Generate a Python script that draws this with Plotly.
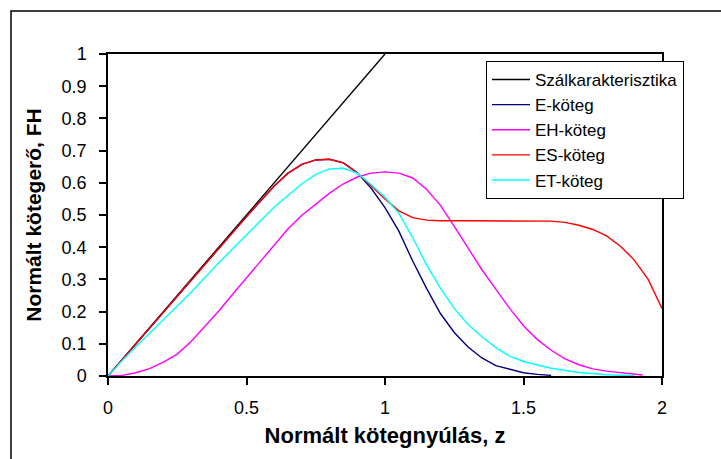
import plotly.graph_objects as go

# ---- data ----
z_fiber = [0, 1.0]
F_fiber = [0, 1.0]

z_E = [0, 0.1, 0.2, 0.3, 0.4, 0.5, 0.6, 0.65, 0.7, 0.75, 0.8, 0.85, 0.9, 0.95,
       1.0, 1.05, 1.1, 1.15, 1.2, 1.25, 1.3, 1.35, 1.4, 1.45, 1.5, 1.55, 1.6]
F_E = [0, 0.099, 0.198, 0.297, 0.396, 0.495, 0.59, 0.63, 0.657, 0.671, 0.673, 0.662, 0.631, 0.583,
       0.523, 0.45, 0.357, 0.272, 0.194, 0.135, 0.09, 0.056, 0.032, 0.02, 0.01, 0.005, 0.002]

z_EH = [0, 0.05, 0.1, 0.15, 0.2, 0.25, 0.3, 0.35, 0.4, 0.45, 0.5, 0.55, 0.6, 0.65, 0.7, 0.75,
        0.8, 0.85, 0.9, 0.95, 1.0, 1.05, 1.1, 1.15, 1.2, 1.25, 1.3, 1.35, 1.4, 1.45, 1.5,
        1.55, 1.6, 1.65, 1.7, 1.75, 1.8, 1.85, 1.9, 1.93]
F_EH = [0, 0.002, 0.01, 0.023, 0.043, 0.068, 0.107, 0.153, 0.202, 0.254, 0.305, 0.356, 0.408,
        0.457, 0.499, 0.533, 0.568, 0.597, 0.618, 0.630, 0.634, 0.630, 0.615, 0.58, 0.53,
        0.465, 0.396, 0.33, 0.27, 0.21, 0.156, 0.113, 0.08, 0.053, 0.035, 0.022, 0.015,
        0.01, 0.005, 0.003]

z_ES = [0, 0.1, 0.2, 0.3, 0.4, 0.5, 0.6, 0.65, 0.7, 0.75, 0.8, 0.85, 0.9, 0.95, 1.0, 1.05,
        1.1, 1.15, 1.2, 1.3, 1.4, 1.5, 1.6, 1.65, 1.7, 1.75, 1.8, 1.85, 1.9, 1.95, 2.0]
F_ES = [0, 0.099, 0.198, 0.297, 0.396, 0.495, 0.59, 0.63, 0.657, 0.671, 0.673, 0.662, 0.631,
        0.59, 0.55, 0.513, 0.492, 0.484, 0.482, 0.482, 0.482, 0.482, 0.481, 0.477, 0.468,
        0.455, 0.435, 0.403, 0.36, 0.30, 0.21]

z_ET = [0, 0.05, 0.1, 0.2, 0.3, 0.4, 0.5, 0.6, 0.7, 0.75, 0.8, 0.85, 0.9, 0.95, 1.0, 1.05,
        1.1, 1.15, 1.2, 1.25, 1.3, 1.35, 1.4, 1.45, 1.5, 1.6, 1.7, 1.8, 1.9]
F_ET = [0, 0.047, 0.09, 0.175, 0.26, 0.352, 0.44, 0.525, 0.597, 0.626, 0.643, 0.645, 0.63,
        0.595, 0.555, 0.505, 0.43, 0.345, 0.273, 0.21, 0.16, 0.122, 0.088, 0.062, 0.045,
        0.024, 0.011, 0.004, 0.001]

series = [
    ("Szálkarakterisztika", z_fiber, F_fiber, "#000000"),
    ("E-köteg", z_E, F_E, "#000080"),
    ("EH-köteg", z_EH, F_EH, "#FF00FF"),
    ("ES-köteg", z_ES, F_ES, "#FF0000"),
    ("ET-köteg", z_ET, F_ET, "#00FFFF"),
]

x_ticks = [0, 0.5, 1, 1.5, 2]
x_tick_labels = ["0", "0.5", "1", "1.5", "2"]
y_ticks = [0, 0.1, 0.2, 0.3, 0.4, 0.5, 0.6, 0.7, 0.8, 0.9, 1]
y_tick_labels = ["0", "0.1", "0.2", "0.3", "0.4", "0.5", "0.6", "0.7", "0.8", "0.9", "1"]

FONT = "Liberation Sans, Arial, sans-serif"

# figure is larger than the 721x459 window (the chart's outer frame runs past the
# window edge in the reference); plot area spans x 108..662, y 54..376
PX0, PX1, PY0, PY1 = 108, 662, 54, 376
W, H = 780, 490
PW, PH = PX1 - PX0, PY1 - PY0


def px(x):
    return (x - PX0) / PW


def py(y):
    return (PY1 - y) / PH


fig = go.Figure()
for name, xs, ys, col in series:
    fig.add_trace(go.Scatter(x=xs, y=ys, mode="lines", name=name,
                             line=dict(color=col, width=1.4)))

fig.update_layout(
    width=W, height=H,
    margin=dict(l=PX0, r=W - PX1, t=PY0, b=H - PY1, autoexpand=False),
    paper_bgcolor="white", plot_bgcolor="white",
    font=dict(family=FONT, size=18, color="black"),
    showlegend=True,
    legend=dict(x=px(486), y=py(61), xanchor="left", yanchor="top",
                bgcolor="white", bordercolor="black", borderwidth=1,
                font=dict(family=FONT, size=17, color="black"),
                tracegroupgap=0, itemwidth=38),
)
fig.update_xaxes(range=[0, 2], tickvals=x_ticks, ticktext=x_tick_labels,
                 showgrid=False, zeroline=False, showline=True, linecolor="black",
                 linewidth=1.5, mirror=True, ticks="outside", ticklen=7, tickwidth=1.5,
                 tickcolor="black", tickfont=dict(size=18), ticklabelstandoff=8,
                 title=dict(text="<b>Normált kötegnyúlás, z</b>", font=dict(size=22), standoff=10))
fig.update_yaxes(range=[0, 1], tickvals=y_ticks, ticktext=y_tick_labels,
                 showgrid=False, zeroline=False, showline=True, linecolor="black",
                 linewidth=1.5, mirror=True, ticks="outside", ticklen=7, tickwidth=1.5,
                 tickcolor="black", tickfont=dict(size=18), ticklabelstandoff=9,
                 title=dict(text="<b>Normált kötegerő, FH</b>", font=dict(size=21), standoff=14))

# outer chart border (runs past the right and bottom window edges)
fig.add_shape(type="rect", xref="paper", yref="paper",
              x0=px(11), x1=px(760), y0=py(475), y1=py(11),
              line=dict(color="black", width=1.5), fillcolor="rgba(0,0,0,0)", layer="below")

fig.write_html(
    "out.html",
    config={"displayModeBar": False},
    post_script="document.body.style.margin='0px';"
                "document.body.style.overflow='hidden';"
                "document.documentElement.style.overflow='hidden';",
)
